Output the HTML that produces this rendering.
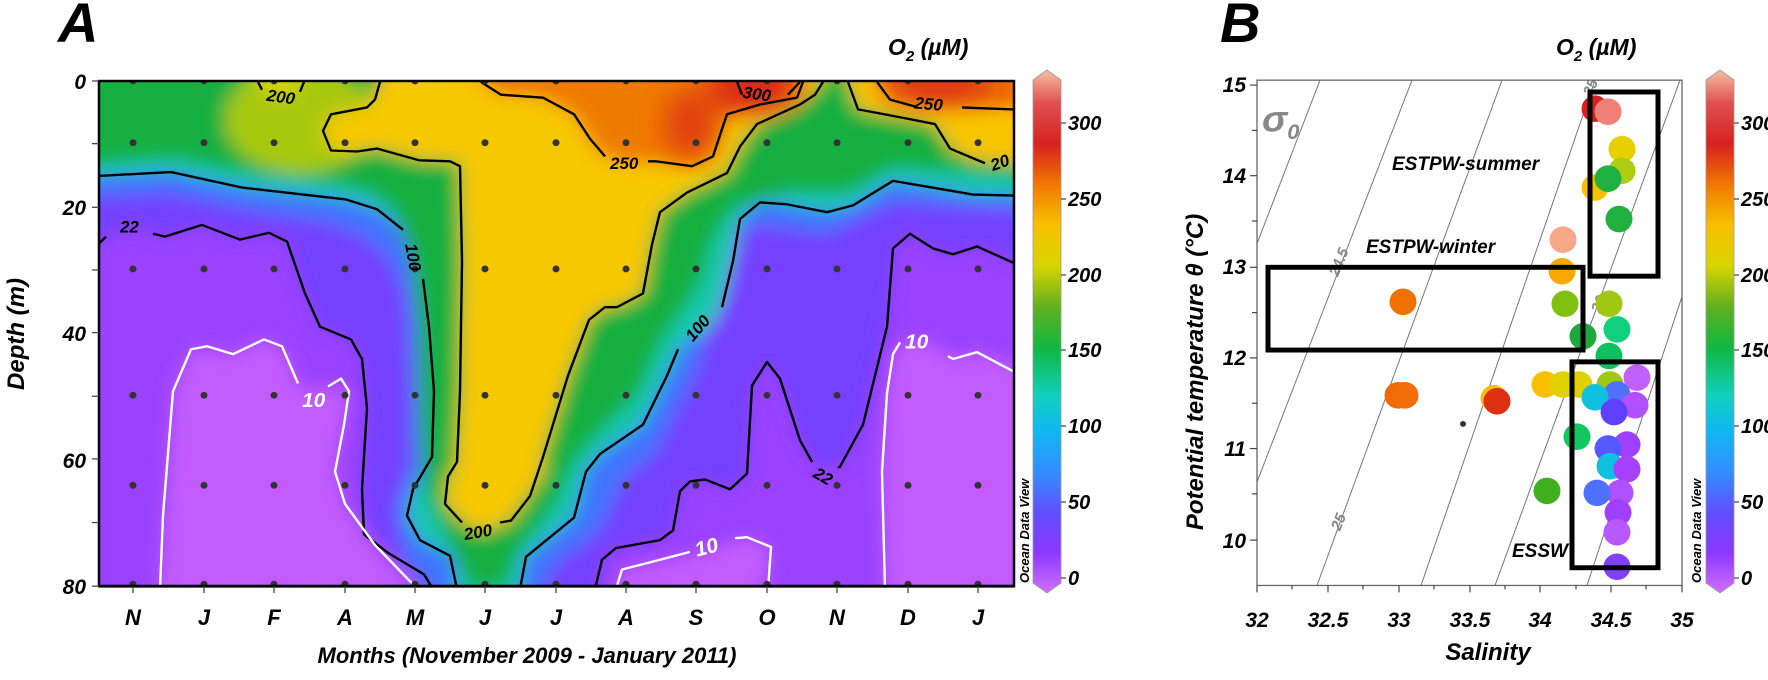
<!DOCTYPE html>
<html><head><meta charset="utf-8"><style>
html,body{margin:0;padding:0;background:#fff;}
svg{display:block;}
text{font-family:"Liberation Sans",Arial,sans-serif;font-weight:bold;font-style:italic;}
</style></head><body>
<svg width="1768" height="680" viewBox="0 0 1768 680" xmlns="http://www.w3.org/2000/svg">
<defs>
<clipPath id="cA"><rect x="99" y="81" width="915" height="516"/></clipPath>
<clipPath id="cB"><rect x="1257" y="83" width="425" height="513"/></clipPath>
<filter id="bl" x="-10%" y="-10%" width="120%" height="120%"><feGaussianBlur stdDeviation="9"/></filter>
<filter id="bl2" x="-20%" y="-20%" width="140%" height="140%"><feGaussianBlur stdDeviation="14"/></filter>
<linearGradient id="cb" x1="0" y1="1" x2="0" y2="0">
<stop offset="0" stop-color="#d070ff"/>
<stop offset="0.078" stop-color="#8a38ff"/>
<stop offset="0.156" stop-color="#6050ff"/>
<stop offset="0.234" stop-color="#3090ff"/>
<stop offset="0.312" stop-color="#10b8f0"/>
<stop offset="0.375" stop-color="#10d0c0"/>
<stop offset="0.469" stop-color="#10b840"/>
<stop offset="0.547" stop-color="#60b020"/>
<stop offset="0.625" stop-color="#d8d400"/>
<stop offset="0.703" stop-color="#f8c000"/>
<stop offset="0.781" stop-color="#f07800"/>
<stop offset="0.859" stop-color="#d82020"/>
<stop offset="0.937" stop-color="#e05050"/>
<stop offset="1" stop-color="#f8c0a0"/>
</linearGradient>
</defs>

<!-- ===== Panel A ===== -->
<text x="58" y="42" font-size="56">A</text>
<text x="888" y="55" font-size="23">O<tspan font-size="15" dy="6">2</tspan><tspan dy="-6"> (µM)</tspan></text>

<g transform="translate(0 81) scale(1 0.979) translate(0 -81)">
<g clip-path="url(#cA)">
 <rect x="80" y="60" width="960" height="560" fill="#9a42ff"/>
 <g filter="url(#bl)">
  <path d="M150,620 L160,597 L173,398 L191,355 L233,360 L264,345 L282,352 L302,397 L328,393 L349,398 L344,432 L335,480 L345,513 L375,555 L410,597 L410,620Z" fill="#c25cff"/>
  <path d="M610,620 L616,597 L622,580 L687,567 L747,547 L771,557 L765,597 L765,620Z" fill="#c25cff"/>
  <path d="M885,620 L882,480 L887,400 L893,360 L900,348 L933,348 L953,365 L977,358 L1040,378 L1040,620Z" fill="#c25cff"/>
  <path d="M80,60 L80,252 L98,245 L111,237 L132,230 L153,237 L165,240 L202,228 L240,243 L269,236 L287,245 L305,298 L320,332 L351,345 L362,365 L367,415 L362,498 L364,544 L388,563 L424,585 L433,620 L595,620 L602,570 L616,558 L660,550 L673,540 L680,500 L690,490 L705,488 L730,498 L747,482 L752,392 L767,368 L780,385 L800,448 L813,472 L840,475 L863,432 L887,332 L893,252 L910,237 L933,252 L953,258 L977,250 L1040,272 L1040,60Z" fill="#7440ff"/>
  <path d="M80,60 L80,200 L171,196 L243,212 L330,226 L362,240 L388,262 L405,300 L410,398 L410,470 L395,520 L405,570 L440,620 L535,620 L555,575 L600,540 L625,485 L655,462 L680,410 L700,370 L712,300 L720,245 L760,228 L827,238 L893,205 L1040,215 L1040,60Z" fill="#3f74ff"/>
  <path d="M80,60 L80,178 L98,178 L171,174 L243,190 L346,202 L377,212 L403,233 L416,258 L423,283 L429,332 L434,398 L432,465 L413,498 L407,525 L420,550 L454,568 L457,620 L520,620 L520,597 L526,567 L574,527 L586,480 L600,462 L643,432 L667,382 L683,348 L707,337 L722,312 L733,265 L740,222 L760,205 L787,207 L827,215 L853,208 L893,183 L933,190 L973,197 L1040,198 L1040,60Z" fill="#12c8b0"/>
  <path d="M80,60 L80,168 L171,160 L243,175 L330,185 L370,195 L395,215 L410,260 L418,330 L420,440 L425,500 L445,545 L470,600 L505,600 L520,560 L555,515 L575,470 L600,440 L640,400 L660,350 L680,320 L700,290 L715,240 L735,210 L790,195 L850,195 L893,170 L1040,180 L1040,60Z" fill="#18b040"/>
  <ellipse cx="300" cy="120" rx="75" ry="55" fill="#a8c810"/>
  <path d="M375,60 L380,82 L367,108 L331,115 L323,132 L331,152 L357,153 L377,150 L419,162 L450,163 L460,165 L462,265 L460,398 L455,480 L448,480 L445,513 L460,530 L481,543 L511,530 L544,480 L543,465 L568,382 L589,325 L605,312 L617,312 L643,298 L652,248 L660,215 L687,195 L727,175 L740,148 L757,125 L800,105 L823,82 L825,60Z" fill="#f6c800"/>
  <path d="M845,60 L848,82 L858,110 L900,118 L935,125 L950,150 L975,163 L1040,165 L1040,60Z" fill="#f8c400"/>
  <path d="M250,60 L258,82 L266,92 L282,100 L302,82 L305,60Z" fill="#d8d400"/>
  <path d="M478,60 L481,82 L501,95 L543,98 L574,115 L599,155 L625,165 L656,163 L692,168 L713,158 L727,115 L797,98 L803,60Z" fill="#f07a00"/>
  <path d="M872,60 L877,82 L890,100 L920,107 L965,108 L1040,110 L1040,60Z" fill="#f07000"/>
 </g>
 <g filter="url(#bl2)">
  <ellipse cx="752" cy="88" rx="45" ry="22" fill="#d81c1c"/>
  <ellipse cx="690" cy="125" rx="25" ry="35" fill="#e03c0c"/>
  <ellipse cx="940" cy="85" rx="55" ry="14" fill="#d82020"/>
 </g>
 <g fill="none" stroke="#000" stroke-width="2.4" stroke-linejoin="round">
  <path d="M98,178 L171,174 L243,190 L346,202 L377,212 L403,233"/>
  <path d="M423,283 L429,332 L434,398 L432,465 L413,498 L407,525 L420,550 L450,566 L457,600"/>
  <path d="M98,248 L106,240"/>
  <path d="M153,237 L165,240 L202,228 L240,243 L269,236 L287,245 L305,298 L320,332 L351,345 L362,365 L367,415 L362,498 L364,544 L388,563 L424,585 L433,600"/>
  <path d="M258,82 L262,90 M304,82 L300,92"/>
  <path d="M380,82 L375,100 L367,108 L331,115 L323,132 L331,152 L357,153 L377,150 L419,162 L450,163 L460,168 L462,265 L460,398 L457,470 L448,485 L445,513 L462,532"/>
  <path d="M500,532 L511,530 L530,505 L543,465 L568,382 L589,325 L605,312 L617,312 L643,298 L652,248 L660,215 L687,195 L727,175 L740,148 L757,125 L800,105 L815,95 L823,82"/>
  <path d="M481,82 L501,95 L543,98 L574,115 L590,140 L605,158"/>
  <path d="M648,163 L656,163 L692,168 L713,158 L722,130 L727,115 L760,105 L797,98 L803,82"/>
  <path d="M520,600 L526,567 L574,527 L586,480 L600,462 L643,432 L667,382 L678,355"/>
  <path d="M722,312 L733,265 L740,222 L760,205 L787,207 L827,215 L853,208 L893,183 L933,190 L973,197 L1014,198"/>
  <path d="M595,600 L602,570 L616,558 L660,550 L673,540 L680,500 L690,490 L705,488 L730,498 L747,482 L752,392 L767,368 L780,385 L800,448 L812,470"/>
  <path d="M838,476 L840,475 L863,432 L887,332 L893,252 L910,237 L933,252 L953,258 L977,250 L1014,267"/>
  <path d="M848,82 L858,110 L900,118 L935,125 L950,150 L985,165"/>
  <path d="M877,82 L890,100 L915,107 M962,108 L1014,110"/>
  <path d="M737,82 L742,95 M788,95 L800,82"/>
 </g>
 <g fill="none" stroke="#fff" stroke-width="2.4" stroke-linejoin="round">
  <path d="M160,600 L163,525 L173,398 L191,355 L207,352 L233,360 L264,345 L282,352 L298,390"/>
  <path d="M328,393 L341,385 L349,398 L344,432 L335,480 L345,513 L375,555 L410,592 L418,600"/>
  <path d="M616,600 L622,580 L660,570 L690,562 M735,548 L747,547 L771,557 L768,600"/>
  <path d="M885,600 L882,480 L887,400 L893,360 L900,348 M948,362 L953,365 L977,358 L1014,378"/>
 </g>
 <g fill="#333">
  <g id="drow">
   <circle cx="133" cy="0" r="3.5"/><circle cx="204" cy="0" r="3.5"/><circle cx="274" cy="0" r="3.5"/><circle cx="345" cy="0" r="3.5"/><circle cx="415" cy="0" r="3.5"/><circle cx="485" cy="0" r="3.5"/><circle cx="556" cy="0" r="3.5"/><circle cx="626" cy="0" r="3.5"/><circle cx="696" cy="0" r="3.5"/><circle cx="767" cy="0" r="3.5"/><circle cx="837" cy="0" r="3.5"/><circle cx="908" cy="0" r="3.5"/><circle cx="978" cy="0" r="3.5"/>
  </g>
  <use href="#drow" y="81"/><use href="#drow" y="144"/><use href="#drow" y="273"/><use href="#drow" y="402"/><use href="#drow" y="494"/><use href="#drow" y="595"/>
 </g>
</g>
<g font-size="17" fill="#000">
 <text x="120" y="236">22</text>
 <text x="266" y="101" transform="rotate(8 266 101)">200</text>
 <text x="405" y="248" transform="rotate(80 405 248)">100</text>
 <text x="465" y="550" transform="rotate(-10 465 550)">200</text>
 <text x="610" y="171">250</text>
 <text x="693" y="348" transform="rotate(-50 693 348)">100</text>
 <text x="742" y="98" transform="rotate(8 742 98)">300</text>
 <text x="914" y="109" transform="rotate(5 914 109)">250</text>
 <text x="993" y="173" transform="rotate(-20 993 173)">20</text>
 <text x="812" y="485" transform="rotate(30 812 485)">22</text>
</g>
<g font-size="21" fill="#fff">
 <text x="302" y="414">10</text>
 <text x="697" y="567" transform="rotate(-15 697 567)">10</text>
 <text x="905" y="354">10</text>
</g>
<rect x="99" y="81" width="915" height="516" fill="none" stroke="#000" stroke-width="2.5"/>
<line x1="99" y1="597" x2="1014" y2="597" stroke="#000" stroke-width="3"/>
<g stroke="#444" stroke-width="1.3">
 <line x1="92" y1="81" x2="99" y2="81"/><line x1="92" y1="145" x2="99" y2="145"/><line x1="92" y1="210" x2="99" y2="210"/><line x1="92" y1="274" x2="99" y2="274"/><line x1="92" y1="338" x2="99" y2="338"/><line x1="92" y1="403" x2="99" y2="403"/><line x1="92" y1="467" x2="99" y2="467"/><line x1="92" y1="532" x2="99" y2="532"/><line x1="92" y1="597" x2="99" y2="597"/>
 <line x1="133" y1="597" x2="133" y2="604"/><line x1="204" y1="597" x2="204" y2="604"/><line x1="274" y1="597" x2="274" y2="604"/><line x1="345" y1="597" x2="345" y2="604"/><line x1="415" y1="597" x2="415" y2="604"/><line x1="485" y1="597" x2="485" y2="604"/><line x1="556" y1="597" x2="556" y2="604"/><line x1="626" y1="597" x2="626" y2="604"/><line x1="696" y1="597" x2="696" y2="604"/><line x1="767" y1="597" x2="767" y2="604"/><line x1="837" y1="597" x2="837" y2="604"/><line x1="908" y1="597" x2="908" y2="604"/><line x1="978" y1="597" x2="978" y2="604"/>
</g>
</g>
<g font-size="21" text-anchor="end">
 <text x="86" y="89">0</text><text x="86" y="215">20</text><text x="86" y="341">40</text><text x="86" y="468">60</text><text x="86" y="594">80</text>
</g>
<g font-size="22" text-anchor="middle">
 <text x="133" y="625">N</text><text x="204" y="625">J</text><text x="274" y="625">F</text><text x="345" y="625">A</text><text x="415" y="625">M</text><text x="485" y="625">J</text><text x="556" y="625">J</text><text x="626" y="625">A</text><text x="696" y="625">S</text><text x="767" y="625">O</text><text x="837" y="625">N</text><text x="908" y="625">D</text><text x="978" y="625">J</text>
</g>
<text x="527" y="663" font-size="22" text-anchor="middle">Months (November 2009 - January 2011)</text>
<text x="0" y="0" font-size="24" text-anchor="middle" transform="translate(24 334) rotate(-90)">Depth (m)</text>
<path d="M1033,80 L1047,70 L1061,80 L1061,583 L1047,593 L1033,583Z" fill="url(#cb)" stroke="#999" stroke-width="0.8"/>
<g stroke="#444" stroke-width="1.2">
 <line x1="1061" y1="123" x2="1066" y2="123"/><line x1="1061" y1="199" x2="1066" y2="199"/><line x1="1061" y1="275" x2="1066" y2="275"/><line x1="1061" y1="350" x2="1066" y2="350"/><line x1="1061" y1="426" x2="1066" y2="426"/><line x1="1061" y1="502" x2="1066" y2="502"/><line x1="1061" y1="578" x2="1066" y2="578"/>
</g>
<g font-size="20">
 <text x="1068" y="130">300</text><text x="1068" y="206">250</text><text x="1068" y="282">200</text><text x="1068" y="357">150</text><text x="1068" y="433">100</text><text x="1068" y="509">50</text><text x="1068" y="585">0</text>
</g>
<text x="0" y="0" font-size="13" transform="translate(1029 583) rotate(-90)">Ocean Data View</text>

<!-- ===== Panel B ===== -->
<text x="1220" y="42" font-size="56">B</text>
<text x="1556" y="55" font-size="23">O<tspan font-size="15" dy="6">2</tspan><tspan dy="-6"> (µM)</tspan></text>
<g transform="translate(0 -1.6) scale(1 0.985)">
<g clip-path="url(#cB)">
 <g stroke="#777" stroke-width="1" fill="none">
  <line x1="1320" y1="83" x2="1257" y2="249"/>
  <line x1="1412" y1="83" x2="1257" y2="491"/>
  <line x1="1502" y1="83" x2="1317" y2="596"/>
  <line x1="1595" y1="83" x2="1421" y2="596"/>
  <line x1="1680" y1="83" x2="1495" y2="596"/>
  <line x1="1780" y1="0" x2="1587" y2="596"/>
 </g>
 <g font-size="15" fill="#888">
  <text x="1338" y="283" transform="rotate(-68 1338 283)">24.5</text>
  <text x="1340" y="541" transform="rotate(-68 1340 541)">25</text>
  <text x="1600" y="320" transform="rotate(-68 1600 320)">26</text>
  <text x="1592" y="100" transform="rotate(-68 1592 100)">25.5</text>
 </g>
 <text x="1262" y="135" font-size="38" fill="#888">σ<tspan font-size="22" dy="8">0</tspan></text>
 <g>
  <circle cx="1403" cy="308" r="13.5" fill="#f07000"/>
  <circle cx="1398" cy="403" r="13.5" fill="#f06a00"/>
  <circle cx="1405" cy="403" r="13.5" fill="#f26c08"/>
  <circle cx="1494" cy="406" r="13.5" fill="#f8c000"/>
  <circle cx="1497" cy="409" r="13.5" fill="#dc3010"/>
  <circle cx="1463" cy="432" r="3" fill="#333"/>
  <circle cx="1547" cy="500" r="13.5" fill="#40b020"/>
  <circle cx="1595" cy="112" r="13.5" fill="#d82020"/>
  <circle cx="1608" cy="115" r="13.5" fill="#f08078"/>
  <circle cx="1622" cy="153" r="13.5" fill="#e8d000"/>
  <circle cx="1595" cy="192" r="13.5" fill="#f8c000"/>
  <circle cx="1622" cy="175" r="13.5" fill="#b0cc10"/>
  <circle cx="1608" cy="183" r="13.5" fill="#20b040"/>
  <circle cx="1619" cy="224" r="13.5" fill="#20b040"/>
  <circle cx="1563" cy="245" r="13.5" fill="#f8a888"/>
  <circle cx="1562" cy="277" r="13.5" fill="#f8a800"/>
  <circle cx="1565" cy="310" r="13.5" fill="#80c010"/>
  <circle cx="1609" cy="310" r="13.5" fill="#a0c810"/>
  <circle cx="1617" cy="336" r="13.5" fill="#10d080"/>
  <circle cx="1583" cy="343" r="13.5" fill="#20a840"/>
  <circle cx="1609" cy="363" r="13.5" fill="#10c060"/>
  <circle cx="1545" cy="392" r="13.5" fill="#f8c000"/>
  <circle cx="1563" cy="392" r="13.5" fill="#e0d000"/>
  <circle cx="1579" cy="392" r="13.5" fill="#e0d000"/>
  <circle cx="1610" cy="392" r="13.5" fill="#a0c810"/>
  <circle cx="1637" cy="385" r="13.5" fill="#c060ff"/>
  <circle cx="1617" cy="402" r="13.5" fill="#5070ff"/>
  <circle cx="1635" cy="413" r="13.5" fill="#b050ff"/>
  <circle cx="1595" cy="405" r="13.5" fill="#10c0e0"/>
  <circle cx="1614" cy="420" r="13.5" fill="#6040ff"/>
  <circle cx="1577" cy="445" r="13.5" fill="#10c860"/>
  <circle cx="1627" cy="453" r="13.5" fill="#a040ff"/>
  <circle cx="1608" cy="457" r="13.5" fill="#5858ff"/>
  <circle cx="1610" cy="475" r="13.5" fill="#10c0e0"/>
  <circle cx="1627" cy="478" r="13.5" fill="#a840ff"/>
  <circle cx="1620" cy="502" r="13.5" fill="#b050ff"/>
  <circle cx="1597" cy="502" r="13.5" fill="#5070ff"/>
  <circle cx="1618" cy="522" r="13.5" fill="#a040ff"/>
  <circle cx="1617" cy="542" r="13.5" fill="#b858ff"/>
  <circle cx="1617" cy="577" r="13.5" fill="#8040ff"/>
 </g>
 <g fill="none" stroke="#000" stroke-width="5">
  <rect x="1590" y="95" width="68" height="187"/>
  <rect x="1268" y="273" width="315" height="84"/>
  <rect x="1572" y="369" width="86" height="209"/>
 </g>
</g>
<rect x="1257" y="83" width="425" height="513" fill="none" stroke="#666" stroke-width="1.3"/>
<g stroke="#444" stroke-width="1.2">
 <line x1="1257" y1="596" x2="1257" y2="603"/><line x1="1292" y1="596" x2="1292" y2="600"/><line x1="1328" y1="596" x2="1328" y2="603"/><line x1="1363" y1="596" x2="1363" y2="600"/><line x1="1399" y1="596" x2="1399" y2="603"/><line x1="1434" y1="596" x2="1434" y2="600"/><line x1="1470" y1="596" x2="1470" y2="603"/><line x1="1505" y1="596" x2="1505" y2="600"/><line x1="1540" y1="596" x2="1540" y2="603"/><line x1="1576" y1="596" x2="1576" y2="600"/><line x1="1611" y1="596" x2="1611" y2="603"/><line x1="1646" y1="596" x2="1646" y2="600"/><line x1="1682" y1="596" x2="1682" y2="603"/>
 <line x1="1250" y1="88" x2="1257" y2="88"/><line x1="1252" y1="134" x2="1257" y2="134"/><line x1="1250" y1="180" x2="1257" y2="180"/><line x1="1252" y1="226" x2="1257" y2="226"/><line x1="1250" y1="273" x2="1257" y2="273"/><line x1="1252" y1="319" x2="1257" y2="319"/><line x1="1250" y1="365" x2="1257" y2="365"/><line x1="1252" y1="411" x2="1257" y2="411"/><line x1="1250" y1="457" x2="1257" y2="457"/><line x1="1252" y1="503" x2="1257" y2="503"/><line x1="1250" y1="550" x2="1257" y2="550"/>
</g>
</g>
<g font-size="19">
 <text x="1392" y="170">ESTPW-summer</text>
 <text x="1366" y="253">ESTPW-winter</text>
 <text x="1512" y="557">ESSW</text>
</g>
<g font-size="21" text-anchor="end">
 <text x="1246" y="92">15</text><text x="1246" y="183">14</text><text x="1246" y="274">13</text><text x="1246" y="365">12</text><text x="1246" y="456">11</text><text x="1246" y="548">10</text>
</g>
<g font-size="21" text-anchor="middle">
 <text x="1257" y="627">32</text><text x="1328" y="627">32.5</text><text x="1399" y="627">33</text><text x="1470" y="627">33.5</text><text x="1540" y="627">34</text><text x="1611" y="627">34.5</text><text x="1682" y="627">35</text>
</g>
<text x="1488" y="660" font-size="24" text-anchor="middle">Salinity</text>
<text x="0" y="0" font-size="24" text-anchor="middle" transform="translate(1203 372) rotate(-90)">Potential temperature  θ (°C)</text>
<path d="M1706,80 L1720,70 L1734,80 L1734,583 L1720,593 L1706,583Z" fill="url(#cb)" stroke="#999" stroke-width="0.8"/>
<g stroke="#444" stroke-width="1.2">
 <line x1="1734" y1="123" x2="1739" y2="123"/><line x1="1734" y1="199" x2="1739" y2="199"/><line x1="1734" y1="275" x2="1739" y2="275"/><line x1="1734" y1="350" x2="1739" y2="350"/><line x1="1734" y1="426" x2="1739" y2="426"/><line x1="1734" y1="502" x2="1739" y2="502"/><line x1="1734" y1="578" x2="1739" y2="578"/>
</g>
<g font-size="20">
 <text x="1741" y="130">300</text><text x="1741" y="206">250</text><text x="1741" y="282">200</text><text x="1741" y="357">150</text><text x="1741" y="433">100</text><text x="1741" y="509">50</text><text x="1741" y="585">0</text>
</g>
<text x="0" y="0" font-size="13" transform="translate(1701 583) rotate(-90)">Ocean Data View</text>
</svg>
</body></html>
